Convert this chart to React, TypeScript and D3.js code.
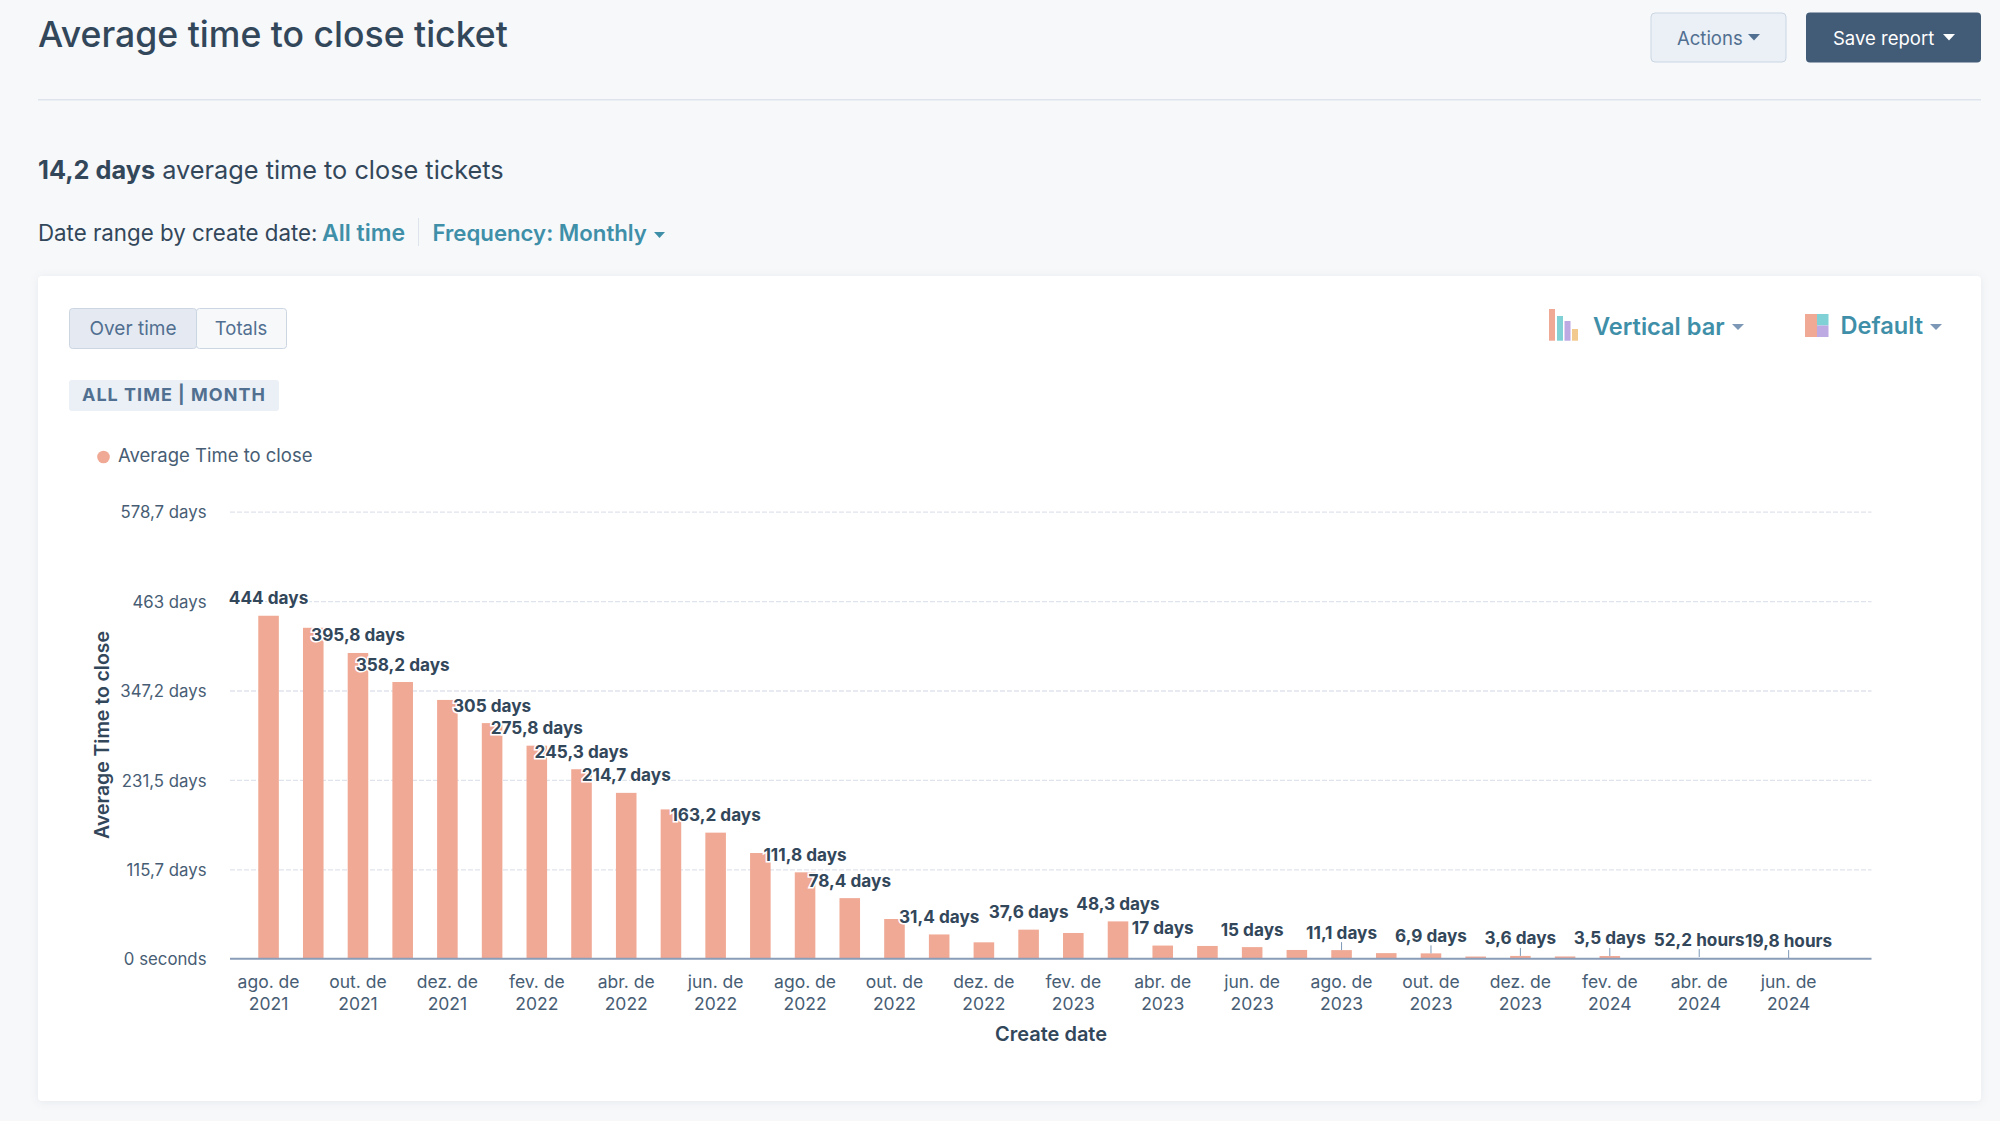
import React, { useEffect, useRef } from 'react';
import * as d3 from 'd3';

const months = [
  '2021-08', '2021-09', '2021-10', '2021-11', '2021-12', '2022-01', '2022-02', '2022-03', '2022-04',
  '2022-05', '2022-06', '2022-07', '2022-08', '2022-09', '2022-10', '2022-11', '2022-12', '2023-01',
  '2023-02', '2023-03', '2023-04', '2023-05', '2023-06', '2023-07', '2023-08', '2023-09', '2023-10',
  '2023-11', '2023-12', '2024-01', '2024-02', '2024-03', '2024-04', '2024-05', '2024-06',
];
const avgDays = [
  444, 428.4, 395.8, 358.2, 335, 305, 275.8, 245.3, 214.7, 193.3, 163.2, 136.8, 111.8, 78.4, 51.4, 31.4, 21.2,
  37.6, 33.3, 48.3, 17, 16.5, 15, 11.3, 11.1, 7.2, 6.9, 2.8, 3.6, 2.9, 3.5, 0, 0, 0, 0,
];
const valueLabels = [
  '444 days', '', '395,8 days', '358,2 days', '', '305 days', '275,8 days', '245,3 days', '214,7 days', '',
  '163,2 days', '', '111,8 days', '78,4 days', '', '31,4 days', '', '37,6 days', '', '48,3 days', '17 days', '',
  '15 days', '', '11,1 days', '', '6,9 days', '', '3,6 days', '', '3,5 days', '', '52,2 hours', '', '19,8 hours',
];
// the label's own value, used to place it (the last two are in hours)
const labelDays = avgDays.map((d, i) => (i === 32 ? 52.2 / 24 : i === 34 ? 19.8 / 24 : d));

const xTickLabels = [
  'ago. de 2021', 'out. de 2021', 'dez. de 2021', 'fev. de 2022', 'abr. de 2022', 'jun. de 2022', 'ago. de 2022',
  'out. de 2022', 'dez. de 2022', 'fev. de 2023', 'abr. de 2023', 'jun. de 2023', 'ago. de 2023', 'out. de 2023',
  'dez. de 2023', 'fev. de 2024', 'abr. de 2024', 'jun. de 2024',
];
const yTicks = [0, 115.74, 231.48, 347.22, 462.96, 578.7];
const yTickLabels = ['0 seconds', '115,7 days', '231,5 days', '347,2 days', '463 days', '578,7 days'];

const FONT = 'Inter, sans-serif';
const DARK = '#33475b';
const MID = '#516f90';
const TICK = '#475d74';
const TEAL = '#3f8fa9';
const SALMON = '#f0a994';

const App: React.FC = () => {
  const svgRef = useRef<SVGSVGElement>(null);

  useEffect(() => {
    if (!svgRef.current) return;
    const svg = d3.select(svgRef.current);
    svg.selectAll('*').remove();

    const text = (
      x: number,
      y: number,
      s: string,
      size: number,
      fill: string,
      weight = 400,
      anchor = 'start',
      spacing = 0
    ) =>
      svg
        .append('text')
        .attr('x', x)
        .attr('y', y)
        .attr('text-anchor', anchor)
        .style('font-family', FONT)
        .style('font-size', `${size}px`)
        .style('font-weight', weight)
        .style('letter-spacing', `${spacing}px`)
        .style('fill', fill)
        .text(s);

    const rect = (x: number, y: number, w: number, h: number, fill: string, stroke = 'none', r = 0) =>
      svg
        .append('rect')
        .attr('x', x)
        .attr('y', y)
        .attr('width', w)
        .attr('height', h)
        .attr('rx', r)
        .attr('fill', fill)
        .attr('stroke', stroke);

    const caret = (x: number, y: number, w: number, h: number, fill: string) =>
      svg
        .append('path')
        .attr('d', d3.line()([[x, y], [x + w, y], [x + w / 2, y + h]]) + 'Z')
        .attr('fill', fill);

    // Page
    rect(0, 0, 2000, 1121, '#f6f8fa');
    text(38, 46.5, 'Average time to close ticket', 35.6, DARK, 500);
    rect(38, 99, 1943, 1.5, '#dfe3eb');

    rect(1651, 13, 135, 49, '#eaf0f6', '#cbd6e2', 4);
    text(1677, 45, 'Actions', 18.5, MID);
    caret(1748, 34, 12, 6.5, MID);
    rect(1806, 12.5, 175, 50, '#425b76', 'none', 4);
    text(1833, 45, 'Save report', 18.5, '#ffffff');
    caret(1943, 34, 12, 6.5, '#ffffff');

    const lead = text(38, 179, '14,2 days', 25.3, DARK, 700);
    lead.append('tspan').style('font-weight', 400).text(' average time to close tickets');

    text(38, 240.5, 'Date range by create date:', 22.3, DARK);
    text(322, 240.5, 'All time', 23, TEAL, 600);
    rect(418, 218, 1, 28, '#dfe3eb');
    text(432.5, 240.5, 'Frequency: Monthly', 22.2, TEAL, 600);
    caret(654, 232, 11, 6, TEAL);

    // Card
    svg
      .append('rect')
      .attr('x', 38)
      .attr('y', 276)
      .attr('width', 1943)
      .attr('height', 825)
      .attr('rx', 4)
      .attr('fill', '#ffffff')
      .style('filter', 'drop-shadow(0 1px 4px rgba(45,62,80,0.08))');

    rect(69.5, 308.5, 127, 40, '#e5eaf2', '#cbd6e2', 3);
    rect(196.5, 308.5, 90, 40, '#f6f8fa', '#cbd6e2', 3);
    text(133, 335, 'Over time', 19, MID, 400, 'middle');
    text(241, 335, 'Totals', 18.5, MID, 400, 'middle');

    rect(69, 380, 210, 31, '#eaf0f6', 'none', 3);
    text(82, 401, 'ALL TIME | MONTH', 18, MID, 700, 'start', 1);

    svg.append('circle').attr('cx', 103.5).attr('cy', 457).attr('r', 6.3).attr('fill', SALMON);
    text(118, 461.5, 'Average Time to close', 18.5, TICK);

    // Chart type pickers
    const typeBars: [number, number, number, string][] = [
      [1549, 6, 309, SALMON],
      [1557, 6, 316, '#7fd1d6'],
      [1564.5, 6, 321, '#bdaae3'],
      [1572, 6, 329, '#f2c98e'],
    ];
    typeBars.forEach(([x, w, top, c]) => rect(x, top, w, 340.7 - top, c));
    text(1593, 335, 'Vertical bar', 23.6, TEAL, 600);
    caret(1732, 324, 12, 6, '#7c98b6');

    rect(1805, 314, 12, 23, SALMON);
    rect(1817, 314, 11.5, 11.5, '#7fd1d6');
    rect(1817, 325.5, 11.5, 11.5, '#bdaae3');
    text(1840.5, 334, 'Default', 23.6, TEAL, 600);
    caret(1930, 324, 12, 6, '#7c98b6');

    // Scales
    const baseY = 958.7;
    const x = d3.scaleBand<string>().domain(months).range([246.2, 1811]).paddingInner(0.54).paddingOuter(0.27);
    const y = d3.scaleLinear().domain([0, 578.7]).range([baseY, 511.7]);
    const xLeft = 230;
    const xRight = 1871.5;

    // Grid lines
    svg
      .append('g')
      .attr('transform', `translate(${xLeft},0)`)
      .call(
        d3
          .axisLeft(y)
          .tickValues(yTicks.slice(1))
          .tickSize(-(xRight - xLeft))
          .tickFormat(() => '')
      )
      .call((g) => g.select('.domain').remove())
      .selectAll('line')
      .style('stroke', '#dfe3eb')
      .style('stroke-width', 1.3)
      .style('stroke-dasharray', '5,2');

    // Bars
    svg
      .append('g')
      .selectAll('rect')
      .data(avgDays.map((d, i) => ({ month: months[i], d })).filter((b) => b.d > 0))
      .enter()
      .append('rect')
      .attr('x', (b) => x(b.month) as number)
      .attr('width', x.bandwidth())
      .attr('y', (b) => y(b.d))
      .attr('height', (b) => baseY - y(b.d))
      .attr('fill', SALMON);

    // Leader ticks under the short bars' labels
    const leaderIdx = [24, 26, 28, 30, 32, 34];
    svg
      .append('g')
      .selectAll('line')
      .data(leaderIdx)
      .enter()
      .append('line')
      .attr('x1', (i) => (x(months[i]) as number) + x.bandwidth() / 2)
      .attr('x2', (i) => (x(months[i]) as number) + x.bandwidth() / 2)
      .attr('y1', (i) => y(labelDays[i]) - 8)
      .attr('y2', (i) => y(labelDays[i]))
      .attr('stroke', '#7c98b6')
      .attr('stroke-width', 1);

    // X axis
    const everyOther = months.filter((_, i) => i % 2 === 0);
    const xAxis = svg
      .append('g')
      .attr('transform', `translate(0,${baseY})`)
      .call(
        d3
          .axisBottom(x)
          .tickValues(everyOther)
          .tickSize(0)
          .tickFormat(() => '')
      );
    xAxis.select('.domain').remove();
    xAxis
      .append('line')
      .attr('x1', xLeft)
      .attr('x2', xRight)
      .attr('stroke', '#8a9db8')
      .attr('stroke-width', 2);
    xAxis.selectAll<SVGTextElement, string>('.tick text').each(function (_, i) {
      const parts = xTickLabels[i].split(' ');
      const t = d3.select(this).attr('y', 0).attr('dy', 0);
      t.selectAll('*').remove();
      t.text(null);
      t.append('tspan').attr('x', 0).attr('y', 29).text(`${parts[0]} ${parts[1]}`);
      t.append('tspan').attr('x', 0).attr('y', 51.5).text(parts[2]);
    });
    xAxis
      .selectAll('.tick text')
      .style('font-family', FONT)
      .style('font-size', '17.5px')
      .style('fill', TICK);

    // Y axis labels
    const yAxis = svg
      .append('g')
      .attr('transform', `translate(206.5,0.8)`)
      .call(
        d3
          .axisLeft(y)
          .tickValues(yTicks)
          .tickSize(0)
          .tickPadding(0)
          .tickFormat((_, i) => yTickLabels[i])
      );
    yAxis.select('.domain').remove();
    yAxis
      .selectAll('text')
      .style('font-family', FONT)
      .style('font-size', '16.8px')
      .style('fill', TICK);

    // Axis titles
    text(1051, 1041, 'Create date', 20, DARK, 600, 'middle');
    svg
      .append('text')
      .attr('transform', 'translate(109,735) rotate(-90)')
      .attr('text-anchor', 'middle')
      .style('font-family', FONT)
      .style('font-size', '19.4px')
      .style('font-weight', 600)
      .style('fill', DARK)
      .text('Average Time to close');

    // Value labels with white halo
    svg
      .append('g')
      .selectAll('text')
      .data(valueLabels.map((s, i) => ({ s, i })).filter((l) => l.s))
      .enter()
      .append('text')
      .attr('x', (l) => (x(months[l.i]) as number) + x.bandwidth() / 2)
      .attr('y', (l) => y(labelDays[l.i]) - 11.5)
      .attr('text-anchor', 'middle')
      .style('font-family', FONT)
      .style('font-size', '17.2px')
      .style('font-weight', 650)
      .style('fill', DARK)
      .style('stroke', '#ffffff')
      .style('stroke-width', 3)
      .style('paint-order', 'stroke')
      .text((l) => l.s);
  }, []);

  return (
    <svg
      ref={svgRef}
      width={2000}
      height={1121}
      style={{ position: 'absolute', left: 0, top: 0, display: 'block' }}
    />
  );
};

export default App;
